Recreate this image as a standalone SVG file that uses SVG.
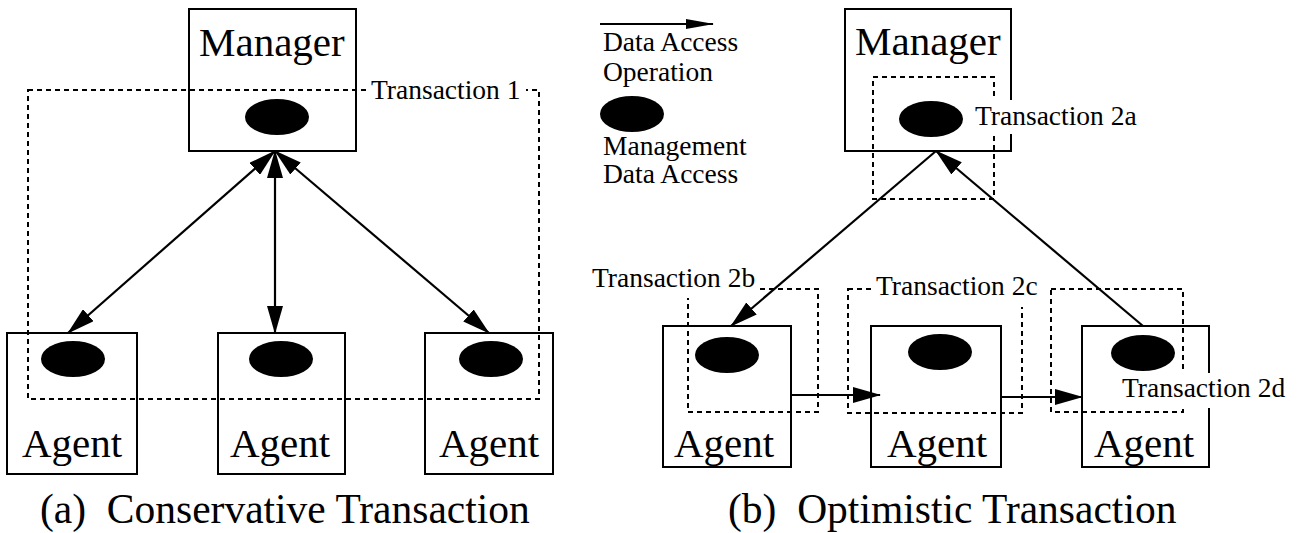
<svg xmlns="http://www.w3.org/2000/svg" width="1304" height="533" viewBox="0 0 1304 533">
<style>
.box{fill:none;stroke:#000;stroke-width:2}
.dot{fill:#000}
.dash{fill:none;stroke:#000;stroke-width:2;stroke-dasharray:5,4}
.big{font-family:"Liberation Serif","Times New Roman",serif;font-size:41px;fill:#000}
.cap{font-family:"Liberation Serif","Times New Roman",serif;font-size:41.5px;fill:#000;white-space:pre}
.sm{font-family:"Liberation Serif","Times New Roman",serif;font-size:27.5px;fill:#000}
.bg{fill:#fff}
.ln{fill:none;stroke:#000;stroke-width:2.2}
</style>
<defs>
<marker id="ah" markerUnits="userSpaceOnUse" markerWidth="28" markerHeight="16" refX="27" refY="8" orient="auto-start-reverse">
<path d="M0,0 L28,8 L0,16 z" fill="#000"/>
</marker>
<marker id="ahl" markerUnits="userSpaceOnUse" markerWidth="28" markerHeight="10" refX="27" refY="5" orient="auto">
<path d="M0,0 L28,5 L0,10 z" fill="#000"/>
</marker>
</defs>
<rect width="1304" height="533" fill="#fff"/>

<!-- Panel (a) -->
<g id="manager-a">
<rect class="box" x="189" y="9" width="167" height="142"/>
<text class="big" x="199" y="56">Manager</text>
<ellipse class="dot" cx="277" cy="117" rx="32" ry="18"/>
</g>
<g id="agent-a1">
<rect class="box" x="7" y="333" width="130" height="141"/>
<ellipse class="dot" cx="73" cy="359" rx="32" ry="18"/>
<text class="big" x="22" y="457">Agent</text>
</g>
<g id="agent-a2">
<rect class="box" x="218" y="333" width="127" height="141"/>
<ellipse class="dot" cx="281" cy="359" rx="32" ry="18"/>
<text class="big" x="230" y="457">Agent</text>
</g>
<g id="agent-a3">
<rect class="box" x="425" y="333" width="128" height="141"/>
<ellipse class="dot" cx="491" cy="359" rx="32" ry="18"/>
<text class="big" x="439" y="457">Agent</text>
</g>
<g id="transaction-1">
<rect class="dash" x="28" y="90" width="511" height="309"/>
<rect class="bg" x="369" y="80" width="157" height="24"/>
<text class="sm" x="371" y="99">Transaction 1</text>
</g>
<text class="cap" x="40" y="523">(a)  Conservative Transaction</text>

<!-- Panel (b) -->
<g id="legend">
<line class="ln" x1="600" y1="24" x2="713" y2="24" marker-end="url(#ahl)"/>
<text class="sm" x="603" y="51">Data Access</text>
<text class="sm" x="603" y="81">Operation</text>
<ellipse class="dot" cx="632" cy="114" rx="32" ry="18"/>
<text class="sm" x="603" y="155">Management</text>
<text class="sm" x="603" y="183">Data Access</text>
</g>
<g id="manager-b">
<rect class="box" x="845" y="9" width="166" height="142"/>
<text class="big" x="855" y="55">Manager</text>
<ellipse class="dot" cx="931" cy="119" rx="32" ry="18"/>
</g>
<g id="agent-b1">
<rect class="box" x="663" y="326" width="128" height="141"/>
<ellipse class="dot" cx="727" cy="355" rx="32" ry="18"/>
<text class="big" x="674" y="457">Agent</text>
</g>
<g id="agent-b2">
<rect class="box" x="871" y="326" width="130" height="141"/>
<ellipse class="dot" cx="940" cy="352" rx="32" ry="18"/>
<text class="big" x="887" y="457">Agent</text>
</g>
<g id="agent-b3">
<rect class="box" x="1082" y="326" width="127" height="141"/>
<ellipse class="dot" cx="1143" cy="353" rx="32" ry="18"/>
<text class="big" x="1094" y="457">Agent</text>
</g>
<g id="transaction-2a">
<rect class="dash" x="873" y="77" width="121" height="122"/>
<rect class="bg" x="973" y="100" width="167" height="34"/>
<text class="sm" x="975" y="125">Transaction 2a</text>
</g>
<g id="transaction-2b">
<rect class="dash" x="688" y="289" width="130" height="123"/>
<rect class="bg" x="590" y="265" width="166" height="33"/>
<text class="sm" x="592" y="287">Transaction 2b</text>
</g>
<g id="transaction-2c">
<rect class="dash" x="848" y="289" width="174" height="124"/>
<rect class="bg" x="873" y="273" width="166" height="34"/>
<text class="sm" x="876" y="295">Transaction 2c</text>
</g>
<g id="transaction-2d">
<rect class="dash" x="1051" y="289" width="132" height="123"/>
<rect class="bg" x="1120" y="373" width="168" height="35"/>
<text class="sm" x="1122" y="397">Transaction 2d</text>
</g>
<text class="cap" x="728" y="523">(b)  Optimistic Transaction</text>

<g id="connectors">
<line class="ln" x1="275" y1="151" x2="68" y2="333" marker-start="url(#ah)" marker-end="url(#ah)"/>
<line class="ln" x1="275" y1="151" x2="275" y2="333" marker-start="url(#ah)" marker-end="url(#ah)"/>
<line class="ln" x1="275" y1="151" x2="489" y2="333" marker-start="url(#ah)" marker-end="url(#ah)"/>
<line class="ln" x1="936" y1="151" x2="731" y2="326" marker-end="url(#ah)"/>
<line class="ln" x1="1143" y1="326" x2="936" y2="151" marker-end="url(#ah)"/>
<line class="ln" x1="791" y1="395" x2="880" y2="395" marker-end="url(#ah)"/>
<line class="ln" x1="1001" y1="397" x2="1082" y2="397" marker-end="url(#ah)"/>
</g>
</svg>
